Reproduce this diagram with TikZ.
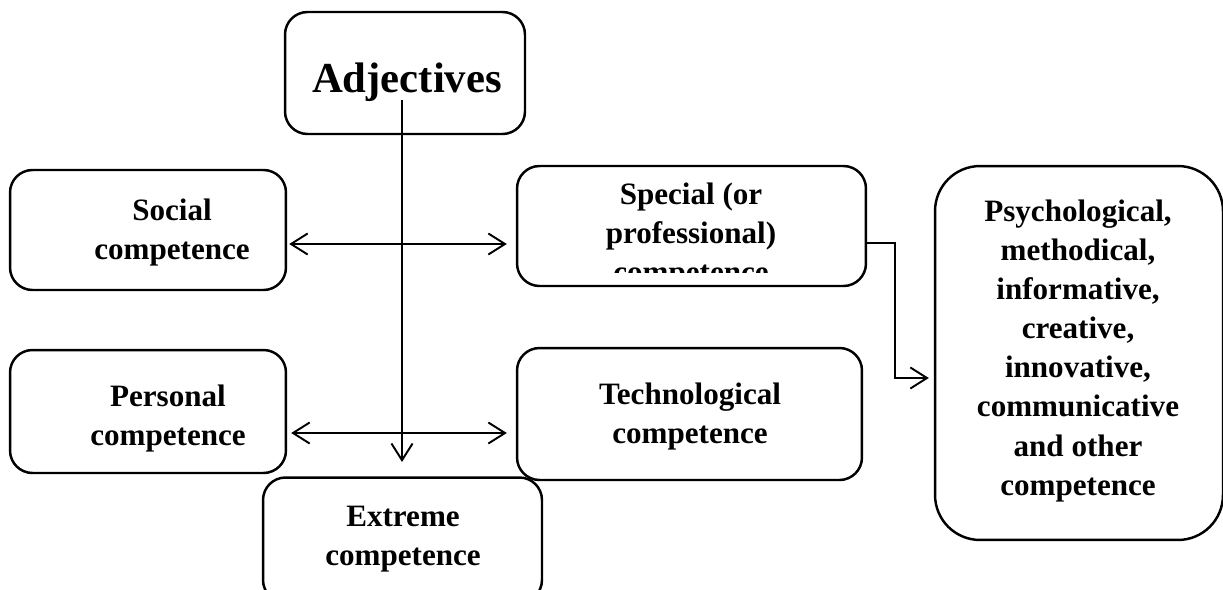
\documentclass[tikz,border=0pt]{standalone}
\usepackage{fontspec}
\setmainfont{Liberation Serif}
\usetikzlibrary{arrows.meta}

\tikzset{
  box/.style={draw, line width=1.4pt, rounded corners=0.45cm},
  lbl/.style={font=\bfseries\fontsize{17.7}{22.2}\selectfont, align=center, inner sep=0pt},
  barb/.tip={Straight Barb[length=9.5pt,width=12pt,line width=1.1pt]},
  arr/.style={line width=1.1pt, -barb},
  biarr/.style={line width=1.1pt, barb-barb}
}

\begin{document}
\begin{tikzpicture}[x=0.02cm,y=-0.02cm]
\useasboundingbox (0,0) rectangle (1223,589);
% boxes
\node[box, minimum width=4.8cm, minimum height=2.44cm] (adj) at (405,73) {};
\node[box, minimum width=5.52cm, minimum height=2.4cm] (social) at (148,230) {};
\node[box, minimum width=6.98cm, minimum height=2.4cm] (special) at (691.5,226) {};
\node[box, minimum width=5.52cm, minimum height=2.46cm] (personal) at (148,411.5) {};
\node[box, minimum width=6.9cm, minimum height=2.64cm] (techno) at (689.5,414) {};
\node[box, minimum width=5.58cm, minimum height=2.5cm] (extreme) at (402.5,540) {};
\node[box, rounded corners=0.9cm, minimum width=5.76cm, minimum height=7.48cm] (psych) at (1079,353) {};
% texts
\node[lbl, font=\bfseries\fontsize{24.3}{29}\selectfont] (adjlbl) at (407,82) {Adjectives};
\node[lbl] (sociallbl) at (172,233) {Social\\competence};
\begin{scope}
\clip (517,150) rectangle (866,272);
\node[lbl] (speciallbl) at (691,236) {Special (or\\professional)\\competence};
\end{scope}
\node[lbl] (personallbl) at (168,418.5) {Personal\\competence};
\node[lbl] (techlbl) at (690,416.5) {Technological\\competence};
\node[lbl] (extremelbl) at (403,539) {Extreme\\competence};
\node[lbl] (psychlbl) at (1078,351) {Psychological,\\methodical,\\informative,\\creative,\\innovative,\\communicative\\and other\\competence};
% connectors
\coordinate (vtop) at (402,100);
\coordinate (vbot) at (402,462);
\draw[arr] (vtop) -- (vbot);
\draw[biarr] ([xshift=0.04cm]social.east |- 0,244) -- ([xshift=-0.18cm]special.west |- 0,244);
\draw[biarr] ([xshift=0.08cm]personal.east |- 0,433) -- ([xshift=-0.18cm]techno.west |- 0,433);
\draw[arr] (special.east |- 0,243) -- (895,243) |- ([xshift=-0.1cm]psych.west |- 0,378);
\end{tikzpicture}
\end{document}
